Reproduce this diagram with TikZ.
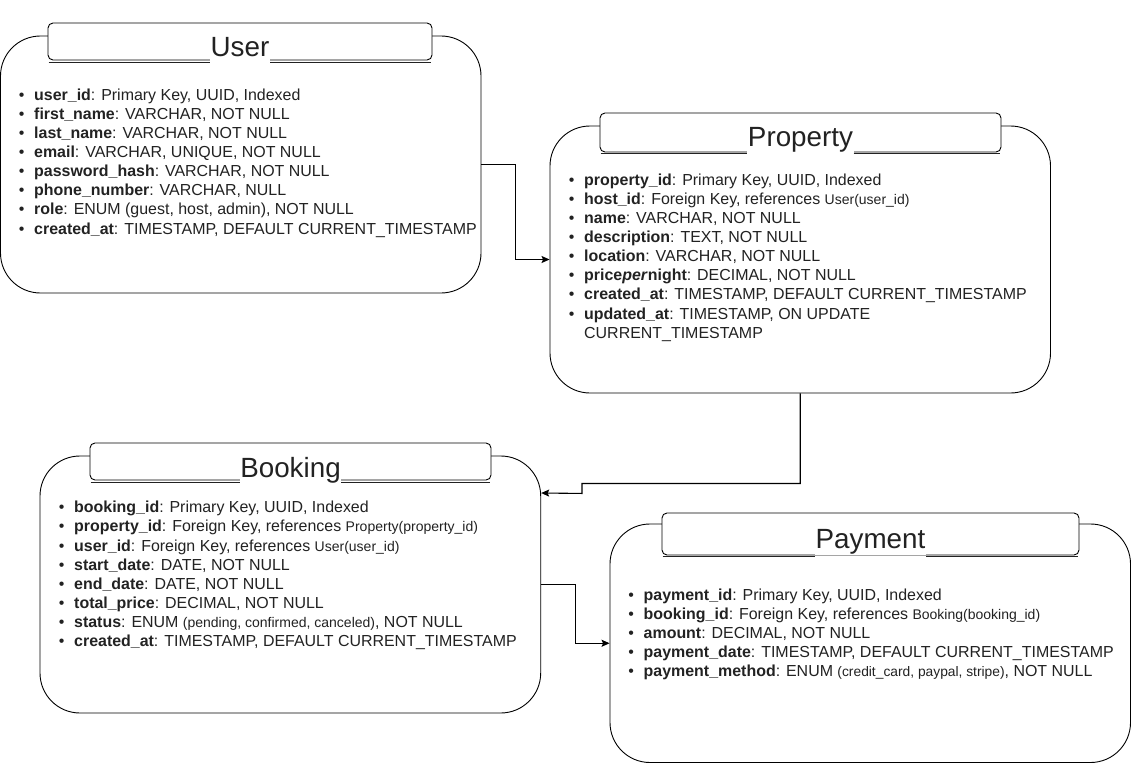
\documentclass[tikz,border=0pt]{standalone}
\usepackage{fontspec}
\setmainfont{Liberation Sans}
\usetikzlibrary{arrows.meta,calc}
\definecolor{txt}{RGB}{34,34,34}
\newcommand{\bul}{\llap{\textbullet\hspace{9.75pt}}}
\newcommand{\sm}[1]{{\fontsize{14}{19.2}\selectfont #1}}
\newcommand{\xs}[1]{{\fontsize{13.8}{19.2}\selectfont #1}}
\tikzset{
  outerbox/.style={draw=black, line width=0.9pt, fill=white, rounded corners=40pt, inner sep=0pt},
  titlebox/.style={draw=black, line width=0.9pt, fill=white, rounded corners=5pt, inner sep=0pt},
  ttl/.style={anchor=base, fill=white, inner xsep=0.5pt, inner ysep=0pt, text depth=7pt, text=txt, font=\fontsize{27.8}{30}\selectfont},
  uline/.style={draw=txt, line width=1.2pt},
  fld/.style={anchor=base west, inner sep=0pt, text=txt, font=\fontsize{15.95}{19.2}\selectfont},
  conn/.style={draw=black, line width=1.1pt, -{Stealth[length=8pt,width=7pt,inset=1.5pt]}},
}
\begin{document}
\begin{tikzpicture}[x=1pt,y=-1pt]
\useasboundingbox (0,0) rectangle (1131,765);

% ---------- User ----------
\node[outerbox, minimum width=480.5pt, minimum height=257pt] (user) at (240.75,164.5) {};
\node[titlebox, minimum width=384pt, minimum height=37pt] (utb) at (240,41.5) {};
\node[ttl] (ut) at (240,57) {User};
\draw[uline] ($(utb.south west)+(1,2)$) -- ($(ut.west |- utb.south)+(0,2)$);
\draw[uline] ($(ut.east |- utb.south)+(0,2)$) -- ($(utb.south east)+(-1,2)$);
\node[fld] (u1) at (34,100)    {\bul\textbf{user\_id}: Primary Key, UUID, Indexed};
\node[fld] (u2) at (34,119.15) {\bul\textbf{first\_name}: VARCHAR, NOT NULL};
\node[fld] (u3) at (34,138.3)  {\bul\textbf{last\_name}: VARCHAR, NOT NULL};
\node[fld] (u4) at (34,157.45) {\bul\textbf{email}: VARCHAR, UNIQUE, NOT NULL};
\node[fld] (u5) at (34,176.6)  {\bul\textbf{password\_hash}: VARCHAR, NOT NULL};
\node[fld] (u6) at (34,195.75) {\bul\textbf{phone\_number}: VARCHAR, NULL};
\node[fld] (u7) at (34,214.9)  {\bul\textbf{role}: ENUM (guest, host, admin), NOT NULL};
\node[fld] (u8) at (34,234.05) {\bul\textbf{created\_at}: TIMESTAMP, DEFAULT CURRENT\_TIMESTAMP};

% ---------- Property ----------
\node[outerbox, minimum width=500.5pt, minimum height=267pt] (prop) at (800.25,259.5) {};
\node[titlebox, minimum width=401pt, minimum height=39pt] (ptb) at (800.5,132.5) {};
\node[ttl] (pt) at (800.5,146) {Property};
\draw[uline] ($(ptb.south west)+(1,1)$) -- ($(pt.west |- ptb.south)+(0,1)$);
\draw[uline] ($(pt.east |- ptb.south)+(0,1)$) -- ($(ptb.south east)+(-1,1)$);
\node[fld] (p1) at (584,185)    {\bul\textbf{property\_id}: Primary Key, UUID, Indexed};
\node[fld] (p2) at (584,204.15) {\bul\textbf{host\_id}: Foreign Key, references \sm{User(user\_id)}};
\node[fld] (p3) at (584,223.3)  {\bul\textbf{name}: VARCHAR, NOT NULL};
\node[fld] (p4) at (584,242.45) {\bul\textbf{description}: TEXT, NOT NULL};
\node[fld] (p5) at (584,261.6)  {\bul\textbf{location}: VARCHAR, NOT NULL};
\node[fld] (p6) at (584,280.75) {\bul\textbf{price\textit{per}night}: DECIMAL, NOT NULL};
\node[fld] (p7) at (584,299.9)  {\bul\textbf{created\_at}: TIMESTAMP, DEFAULT CURRENT\_TIMESTAMP};
\node[fld] (p8) at (584,319.05) {\bul\textbf{updated\_at}: TIMESTAMP, ON UPDATE};
\node[fld] (p9) at (584,338.2)  {CURRENT\_TIMESTAMP};

% ---------- Booking ----------
\node[outerbox, minimum width=500.7pt, minimum height=257pt] (bk) at (290.35,584.5) {};
\node[titlebox, minimum width=401pt, minimum height=37pt] (btb) at (290.5,461.5) {};
\node[ttl] (bt) at (290.5,477) {Booking};
\draw[uline] ($(btb.south west)+(1,2)$) -- ($(bt.west |- btb.south)+(0,2)$);
\draw[uline] ($(bt.east |- btb.south)+(0,2)$) -- ($(btb.south east)+(-1,2)$);
\node[fld] (b1) at (74,512.7)  {\bul\textbf{booking\_id}: Primary Key, UUID, Indexed};
\node[fld] (b2) at (74,531.85) {\bul\textbf{property\_id}: Foreign Key, references \sm{Property(property\_id)}};
\node[fld] (b3) at (74,551)    {\bul\textbf{user\_id}: Foreign Key, references \sm{User(user\_id)}};
\node[fld] (b4) at (74,570.15) {\bul\textbf{start\_date}: DATE, NOT NULL};
\node[fld] (b5) at (74,589.3)  {\bul\textbf{end\_date}: DATE, NOT NULL};
\node[fld] (b6) at (74,608.45) {\bul\textbf{total\_price}: DECIMAL, NOT NULL};
\node[fld] (b7) at (74,627.6)  {\bul\textbf{status}: ENUM \sm{(pending, confirmed, canceled)}, NOT NULL};
\node[fld] (b8) at (74,646.75) {\bul\textbf{created\_at}: TIMESTAMP, DEFAULT CURRENT\_TIMESTAMP};

% ---------- Payment ----------
\node[outerbox, minimum width=520.5pt, minimum height=238.5pt] (pay) at (870.25,643.25) {};
\node[titlebox, minimum width=417pt, minimum height=42pt] (ytb) at (870.5,534) {};
\node[ttl] (yt) at (870.5,548.3) {Payment};
\draw[uline] ($(ytb.south west)+(1,1)$) -- ($(yt.west |- ytb.south)+(0,1)$);
\draw[uline] ($(yt.east |- ytb.south)+(0,1)$) -- ($(ytb.south east)+(-1,1)$);
\node[fld] (y1) at (643.5,600)    {\bul\textbf{payment\_id}: Primary Key, UUID, Indexed};
\node[fld] (y2) at (643.5,619.15) {\bul\textbf{booking\_id}: Foreign Key, references \sm{Booking(booking\_id)}};
\node[fld] (y3) at (643.5,638.3)  {\bul\textbf{amount}: DECIMAL, NOT NULL};
\node[fld] (y4) at (643.5,657.45) {\bul\textbf{payment\_date}: TIMESTAMP, DEFAULT CURRENT\_TIMESTAMP};
\node[fld] (y5) at (643.5,676.6)  {\bul\textbf{payment\_method}: ENUM \xs{(credit\_card, paypal, stripe)}, NOT NULL};

% ---------- Connectors ----------
\coordinate (bkin) at ($(bk.east)+(0,-91.5)$);
\draw[conn] (user.east) -- ++(34,0) |- (prop.west);
\draw[conn] (prop.south) -- ++(0,90) -- ++(-218.25,0) -- ++(0,10) -- (bkin);
\draw[conn] (bk.east) -- ++(34.3,0) |- (pay.west);
\end{tikzpicture}
\end{document}
